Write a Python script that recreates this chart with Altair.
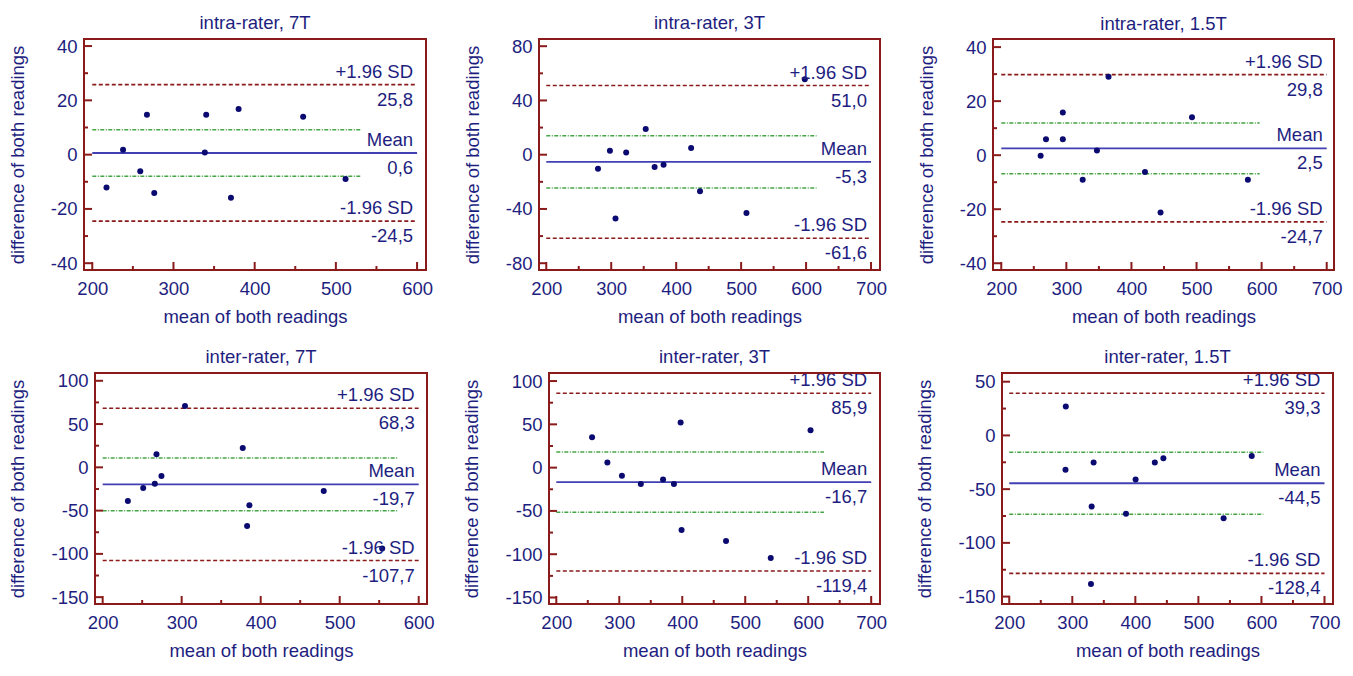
import altair as alt
import pandas as pd

FONT = "Liberation Sans"
TXT = "#1e1e80"
PT = "#0a0a70"
FRAME = "#8b1a1a"
MEANC = "#4040b4"
GREEN = "#45a545"
FS = 18.5

titles = ["intra-rater, 7T", "intra-rater, 3T", "intra-rater, 1.5T",
          "inter-rater, 7T", "inter-rater, 3T", "inter-rater, 1.5T"]

# scatter points (mean of both readings, difference of both readings)
x_intra_7t = [217.5, 237.9, 259.1, 267.3, 276.3, 338.6, 340.3, 370.8, 380.2, 459.7, 511.9]
y_intra_7t = [-12.1, 1.8, -6.1, 14.7, -14.1, 0.8, 14.7, -15.9, 16.8, 14.0, -9.0]
x_intra_3t = [279.6, 298.0, 306.6, 323.0, 353.1, 366.8, 380.6, 423.0, 436.7, 508.2, 598.0]
y_intra_3t = [-10.3, 2.9, -47.0, 1.7, 18.9, -9.1, -7.4, 5.0, -27.0, -43.0, 55.6]
x_intra_15t = [260.5, 268.7, 294.6, 294.6, 325.1, 347.0, 364.8, 420.8, 444.7, 493.0, 578.9]
y_intra_15t = [-0.2, 5.9, 15.8, 5.9, -9.1, 1.7, 29.0, -6.2, -21.2, 14.0, -9.1]
x_inter_7t = [231.9, 251.3, 266.0, 268.1, 274.4, 304.2, 377.3, 382.8, 385.7, 479.8, 553.8]
y_inter_7t = [-38.8, -23.9, -19.0, 15.0, -10.0, 70.9, 22.2, -67.7, -43.7, -27.2, -93.9]
x_inter_3t = [256.8, 281.1, 304.2, 334.2, 369.5, 386.8, 397.4, 398.9, 469.5, 540.5, 603.7]
y_inter_3t = [35.1, 6.0, -9.3, -19.0, -13.8, -19.0, 52.2, -72.0, -84.7, -104.5, 43.3]
x_inter_15t = [289.7, 289.2, 329.6, 330.7, 333.8, 385.2, 400.4, 430.9, 444.5, 540.0, 584.6]
y_inter_15t = [26.9, -32.0, -138.3, -66.2, -25.1, -72.8, -41.0, -25.1, -21.2, -77.0, -19.1]

xs_all = [x_intra_7t, x_intra_3t, x_intra_15t, x_inter_7t, x_inter_3t, x_inter_15t]
ys_all = [y_intra_7t, y_intra_3t, y_intra_15t, y_inter_7t, y_inter_3t, y_inter_15t]

mean_vals = [0.6, -5.3, 2.5, -19.7, -16.7, -44.5]
upper_vals = [25.8, 51.0, 29.8, 68.3, 85.9, 39.3]
lower_vals = [-24.5, -61.6, -24.7, -107.7, -119.4, -128.4]
green_hi = [9.2, 14.0, 11.9, 10.8, 18.0, -15.6]
green_lo = [-8.0, -24.6, -6.9, -50.2, -51.4, -73.4]
green_end = [530, 616, 597, 574, 625, 603]

x_domains = [[189.8, 611.0], [188.8, 713.8], [187.3, 711.2],
             [190.3, 610.5], [188.4, 714.0], [188.5, 713.5]]
y_domains = [[-42.5, 42.6], [-85.0, 85.3], [-42.5, 43.0],
             [-157.9, 109.0], [-157.5, 109.3], [-156.9, 58.1]]
x_major = [[200, 300, 400, 500, 600], [200, 300, 400, 500, 600, 700], [200, 300, 400, 500, 600, 700],
           [200, 300, 400, 500, 600], [200, 300, 400, 500, 600, 700], [200, 300, 400, 500, 600, 700]]
x_minor = [[250, 350, 450, 550], [250, 350, 450, 550, 650], [250, 350, 450, 550, 650],
           [250, 350, 450, 550], [250, 350, 450, 550, 650], [250, 350, 450, 550, 650]]
y_major = [[-40, -20, 0, 20, 40], [-80, -40, 0, 40, 80], [-40, -20, 0, 20, 40],
           [-150, -100, -50, 0, 50, 100], [-150, -100, -50, 0, 50, 100], [-150, -100, -50, 0, 50]]
y_minor = [[-30, -10, 10, 30], [-60, -20, 20, 60], [-30, -10, 10, 30],
           [-125, -75, -25, 25, 75], [-125, -75, -25, 25, 75], [-125, -75, -25, 25]]


def fmt(v):
    return f"{v:.1f}".replace(".", ",")


def panel(i, frame_w, height, extent, inset):
    width = frame_w + inset
    xsc = alt.Scale(domain=x_domains[i], nice=False, zero=False, range=[inset, width])
    ysc = alt.Scale(domain=y_domains[i], nice=False, zero=False)
    xax = alt.Axis(values=x_major[i], title="mean of both readings", labelPadding=9,
                   titlePadding=10, labelFlush=False, labelOverlap=False,
                   labelExpr="datum.value + ''")
    yax = alt.Axis(values=y_major[i], title="difference of both readings", labelPadding=7,
                   titlePadding=10, minExtent=extent, maxExtent=extent, labelOverlap=False,
                   offset=-inset, labelExpr="datum.value + ''")
    x0 = x_major[i][0]
    x1 = x_major[i][-1]

    pts = pd.DataFrame({"x": xs_all[i], "y": ys_all[i]})
    sd_df = pd.DataFrame({"x0": [x0, x0], "x1": [x1, x1], "y": [upper_vals[i], lower_vals[i]]})
    mean_df = pd.DataFrame({"x0": [x0], "x1": [x1], "y": [mean_vals[i]]})
    green_df = pd.DataFrame({"x0": [x0, x0], "x1": [green_end[i]] * 2, "y": [green_hi[i], green_lo[i]]})
    lab_df = pd.DataFrame({
        "xt": [x1] * 3,
        "y": [upper_vals[i], mean_vals[i], lower_vals[i]],
        "above": ["+1.96 SD", "Mean", "-1.96 SD"],
        "below": [fmt(upper_vals[i]), fmt(mean_vals[i]), fmt(lower_vals[i])],
    })
    xt_major = pd.DataFrame({"x": x_major[i]})
    xt_minor = pd.DataFrame({"x": x_minor[i]})
    yt_major = pd.DataFrame({"y": y_major[i]})
    yt_minor = pd.DataFrame({"y": y_minor[i]})
    one = pd.DataFrame({"f": [0]})

    X = lambda f: alt.X(f, scale=xsc, axis=xax)
    Y = lambda f: alt.Y(f, scale=ysc, axis=yax)

    layers = [
        alt.Chart(green_df).mark_rule(color=GREEN, strokeWidth=1.5, strokeDash=[4, 1.5, 1, 1.5])
        .encode(x=X("x0:Q"), x2="x1:Q", y=Y("y:Q")),
        alt.Chart(sd_df).mark_rule(color=FRAME, strokeWidth=1.6, strokeDash=[4, 2.5])
        .encode(x=X("x0:Q"), x2="x1:Q", y=Y("y:Q")),
        alt.Chart(mean_df).mark_rule(color=MEANC, strokeWidth=1.8)
        .encode(x=X("x0:Q"), x2="x1:Q", y=Y("y:Q")),
        alt.Chart(pts).mark_circle(size=36, color=PT, opacity=1)
        .encode(x=X("x:Q"), y=Y("y:Q")),
        alt.Chart(lab_df).mark_text(align="right", baseline="alphabetic", dx=-4, dy=-7,
                                    font=FONT, fontSize=FS, color=TXT)
        .encode(x=X("xt:Q"), y=Y("y:Q"), text="above:N"),
        alt.Chart(lab_df).mark_text(align="right", baseline="alphabetic", dx=-4, dy=21,
                                    font=FONT, fontSize=FS, color=TXT)
        .encode(x=X("xt:Q"), y=Y("y:Q"), text="below:N"),
        alt.Chart(xt_major).mark_rule(color=FRAME, strokeWidth=2)
        .encode(x=X("x:Q"), y=alt.value(height), y2=alt.value(height - 8)),
        alt.Chart(xt_minor).mark_rule(color=FRAME, strokeWidth=2)
        .encode(x=X("x:Q"), y=alt.value(height), y2=alt.value(height - 4)),
        alt.Chart(yt_major).mark_rule(color=FRAME, strokeWidth=2)
        .encode(y=Y("y:Q"), x=alt.value(inset), x2=alt.value(inset + 8)),
        alt.Chart(yt_minor).mark_rule(color=FRAME, strokeWidth=2)
        .encode(y=Y("y:Q"), x=alt.value(inset), x2=alt.value(inset + 4)),
        alt.Chart(one).mark_rect(filled=False, stroke=FRAME, strokeWidth=2)
        .encode(x=alt.value(inset), x2=alt.value(width), y=alt.value(0), y2=alt.value(height)),
    ]
    return alt.layer(*layers).properties(
        width=width, height=height,
        title=alt.TitleParams(titles[i], font=FONT, fontSize=FS, fontWeight="normal",
                              color=TXT, offset=5, dx=inset / 2),
    )


row1 = alt.hconcat(panel(0, 342, 231, 47, 0), panel(1, 341, 231, 47, 0), panel(2, 341, 231, 47, 0),
                   spacing=113, bounds="flush")
row2 = alt.hconcat(panel(3, 332, 231, 58, 11), panel(4, 331, 231, 58, 11), panel(5, 331, 231, 58, 11),
                   spacing=111, bounds="flush")

chart = alt.vconcat(row1, row2, spacing=21).properties(
    padding={"left": 0, "top": 5, "right": 0, "bottom": 6},
    background="white",
).configure_view(
    stroke="transparent", strokeWidth=0
).configure_axis(
    domain=False, ticks=False, tickSize=0, grid=False,
    labelFont=FONT, labelFontSize=FS, labelColor=TXT,
    titleFont=FONT, titleFontSize=FS, titleFontWeight="normal", titleColor=TXT,
)

chart.save("out.html", embed_options={"renderer": "svg", "actions": False})
